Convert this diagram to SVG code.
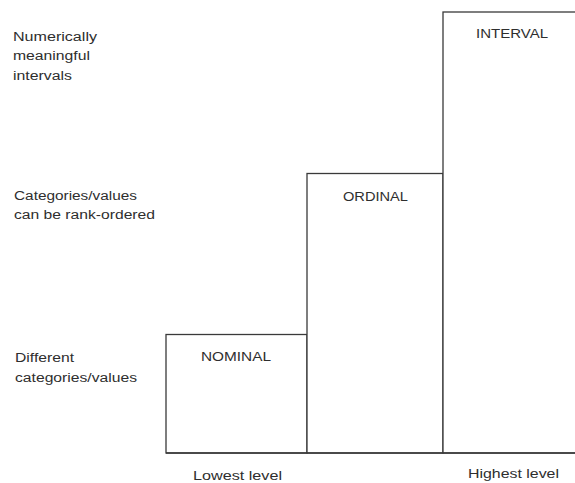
<svg xmlns="http://www.w3.org/2000/svg" width="575" height="483" viewBox="0 0 575 483">
<style>
.box{fill:#fff;stroke:#3a3a3a;stroke-width:1.3}
.lbl{font-family:"Liberation Sans",Arial,sans-serif;font-size:12.5px;fill:#2e2e2e}
.name{font-family:"Liberation Sans",Arial,sans-serif;font-size:13px;fill:#2e2e2e}
</style>
<rect width="575" height="483" fill="#fff"/>
<g id="axis-labels">
<text class="lbl" x="13" y="41" textLength="84" lengthAdjust="spacingAndGlyphs">Numerically</text>
<text class="lbl" x="13" y="60" textLength="77" lengthAdjust="spacingAndGlyphs">meaningful</text>
<text class="lbl" x="13" y="80" textLength="59" lengthAdjust="spacingAndGlyphs">intervals</text>
<text class="lbl" x="14" y="200" textLength="123" lengthAdjust="spacingAndGlyphs">Categories/values</text>
<text class="lbl" x="14" y="219" textLength="141" lengthAdjust="spacingAndGlyphs">can be rank-ordered</text>
<text class="lbl" x="15" y="362" textLength="59" lengthAdjust="spacingAndGlyphs">Different</text>
<text class="lbl" x="15" y="382" textLength="122" lengthAdjust="spacingAndGlyphs">categories/values</text>
<text class="lbl" x="193" y="480" textLength="89" lengthAdjust="spacingAndGlyphs">Lowest level</text>
<text class="lbl" x="468" y="478" textLength="91" lengthAdjust="spacingAndGlyphs">Highest level</text>
</g>
<g id="nominal">
<rect class="box" x="166" y="334.5" width="141" height="118.5"/>
<text class="name" x="201" y="361" textLength="70" lengthAdjust="spacingAndGlyphs">NOMINAL</text>
</g>
<g id="ordinal">
<rect class="box" x="307" y="173.5" width="136" height="279.5"/>
<text class="name" x="343" y="201" textLength="65" lengthAdjust="spacingAndGlyphs">ORDINAL</text>
</g>
<g id="interval">
<rect class="box" x="443" y="12" width="140" height="441"/>
<text class="name" x="476" y="38" textLength="72" lengthAdjust="spacingAndGlyphs">INTERVAL</text>
</g>
<g id="connectors">
<line x1="166" y1="453" x2="575" y2="453" stroke="#3a3a3a" stroke-width="1.3"/>
</g>
</svg>
